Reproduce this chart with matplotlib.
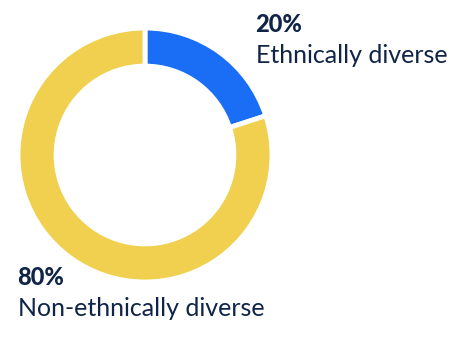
import matplotlib
matplotlib.use("Agg")
import matplotlib.pyplot as plt

labels = ["Ethnically diverse", "Non-ethnically diverse"]
values = [20, 80]
colors = ["#1A6EF5", "#F0D04E"]
pct_labels = ["20%", "80%"]

W, H = 454, 338
fig = plt.figure(figsize=(W / 100, H / 100), dpi=100)

# donut centre (145, 155) px, radius 127 px
cx, cy, r = 145, 155, 127
ax = fig.add_axes([(cx - r) / W, (H - cy - r) / H, 2 * r / W, 2 * r / H])
ax.pie(values, colors=colors, startangle=90, counterclock=False, radius=1,
       wedgeprops=dict(width=0.3, edgecolor="white", linewidth=3.5))
ax.set_xlim(-1, 1)
ax.set_ylim(-1, 1)
ax.set_aspect("equal")
ax.axis("off")

navy = "#0F2447"
font = ["Lato", "DejaVu Sans"]


def px(x, y):
    return x / W, 1 - y / H


fig.text(*px(255, 32), pct_labels[0], fontsize=17, fontweight=900,
         color=navy, family=font, va="baseline")
fig.text(*px(256, 63), labels[0], fontsize=18, color=navy, family=font,
         va="baseline")
fig.text(*px(17, 285), pct_labels[1], fontsize=17, fontweight=900,
         color=navy, family=font, va="baseline")
fig.text(*px(18, 316), labels[1], fontsize=18, color=navy, family=font,
         va="baseline")

fig.savefig("out.png", dpi=100)
